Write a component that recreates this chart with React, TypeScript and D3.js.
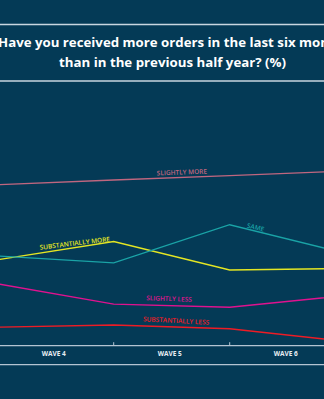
import React from "react";
import * as d3 from "d3";

const waves = ["WAVE 4", "WAVE 5", "WAVE 6"];
// data points sit on the band boundaries (tick marks)
const pointKeys = ["p0", "p1", "p2", "p3"];

const slightlyMore = [57.6, 59.1, 60.5, 62.0];
const substantiallyMore = [33.6, 39.4, 30.3, 30.8];
const same = [34.8, 32.6, 44.8, 35.6];
const slightlyLess = [25.9, 19.4, 18.4, 22.1];
const substantiallyLess = [12.0, 12.7, 11.5, 7.5];

const seriesNames = ["SLIGHTLY MORE", "SUBSTANTIALLY MORE", "SAME", "SLIGHTLY LESS", "SUBSTANTIALLY LESS"];
const seriesColors = ["#c0667f", "#e4e623", "#1aa3a6", "#e0128f", "#ee1c25"];

const W = 324;
const H = 399;

export default function App() {
  const x = d3.scalePoint<string>().domain(pointKeys).range([-2.3, 345.7]);
  const band = d3.scaleBand<string>().domain(waves).range([-2.3, 345.7]);
  const y = d3.scaleLinear().domain([0, 80]).range([364.7, 114.7]);

  const series = [slightlyMore, substantiallyMore, same, slightlyLess, substantiallyLess];
  const line = d3
    .line<number>()
    .x((_, i) => x(pointKeys[i]) as number)
    .y((d) => y(d));

  const labelPos = [
    { x: 182, y: 174.5, r: -2 },
    { x: 75, y: 245.5, r: -7 },
    { x: 255, y: 229.5, r: 14 },
    { x: 169, y: 301, r: 2 },
    { x: 176, y: 323, r: 3 },
  ];

  const axisY = 345.7;
  const ticks = band.domain().slice(1).map((d) => band(d) as number);

  return (
    <svg
      width={W}
      height={H}
      style={{ position: "absolute", left: 0, top: 0, background: "#043a56" }}
    >
      <rect x={0} y={0} width={W} height={H} fill="#043a56" />
      <line x1={0} x2={W} y1={24.5} y2={24.5} stroke="#c9d6e0" strokeWidth={1.5} />
      <text
        x={174}
        y={47}
        textAnchor="middle"
        fill="#ffffff"
        fontFamily="'Open Sans', sans-serif"
        fontWeight={700}
        fontSize={13}
        textLength={352}
        lengthAdjust="spacingAndGlyphs"
      >
        Have you received more orders in the last six months
      </text>
      <text
        x={172.5}
        y={67}
        textAnchor="middle"
        fill="#ffffff"
        fontFamily="'Open Sans', sans-serif"
        fontWeight={700}
        fontSize={13}
        textLength={227}
        lengthAdjust="spacingAndGlyphs"
      >
        than in the previous half year? (%)
      </text>
      <line x1={0} x2={W} y1={81} y2={81} stroke="#c9d6e0" strokeWidth={1.5} />

      {series.map((s, i) => (
        <path key={i} d={line(s) || ""} fill="none" stroke={seriesColors[i]} strokeWidth={1.4} />
      ))}

      {seriesNames.map((n, i) => (
        <text
          key={n}
          transform={`translate(${labelPos[i].x},${labelPos[i].y}) rotate(${labelPos[i].r})`}
          textAnchor="middle"
          fill={seriesColors[i]}
          fontFamily="'Open Sans', sans-serif"
          fontWeight={600}
          fontSize={6.5}
        >
          {n}
        </text>
      ))}

      <line x1={0} x2={W} y1={axisY} y2={axisY} stroke="#b4c4d2" strokeWidth={1.3} />
      {ticks.map((t, i) => (
        <line key={i} x1={t} x2={t} y1={axisY - 3.5} y2={axisY} stroke="#b4c4d2" strokeWidth={1} />
      ))}
      {waves.map((w) => (
        <text
          key={w}
          x={(band(w) as number) + band.bandwidth() / 2 - 2}
          y={355.5}
          textAnchor="middle"
          fill="#e8eef3"
          fontFamily="'Open Sans', sans-serif"
          fontWeight={700}
          fontSize={6.5}
        >
          {w}
        </text>
      ))}
      <line x1={0} x2={W} y1={364.7} y2={364.7} stroke="#b4c4d2" strokeWidth={1.3} />
    </svg>
  );
}
